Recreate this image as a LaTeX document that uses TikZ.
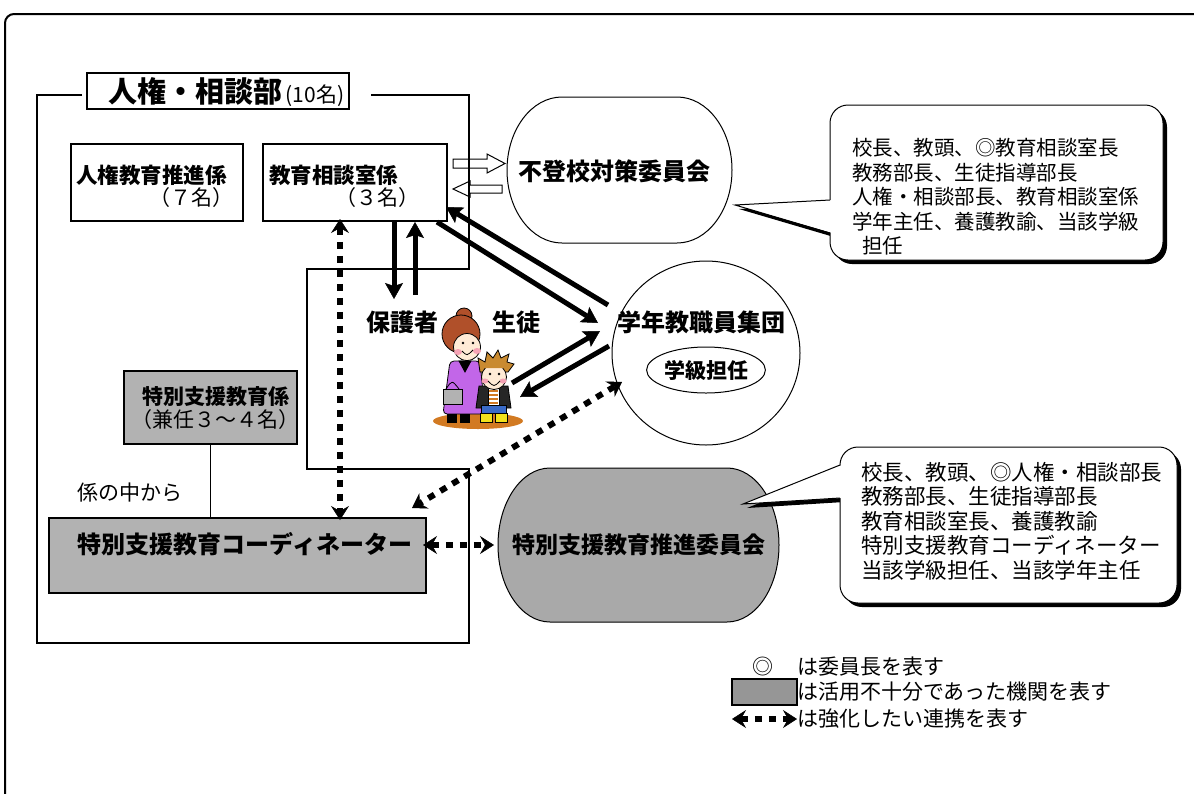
\documentclass[tikz,border=0pt]{standalone}
\usepackage{fontspec}
\setmainfont{Noto Sans CJK JP}
\usetikzlibrary{arrows.meta,shapes.geometric}
\newcommand\fsz[1]{\fontsize{#1}{#1}\selectfont}
\definecolor{boxgray}{HTML}{B2B2B2}
\definecolor{meetgray}{HTML}{A9A9A9}
\definecolor{keygray}{HTML}{969696}
\definecolor{dressviolet}{HTML}{C266E8}
\definecolor{hairred}{HTML}{B0502A}
\definecolor{hairgold}{HTML}{C98A30}
\definecolor{skin}{HTML}{FFEBD6}
\definecolor{groundorange}{HTML}{D27A22}
\definecolor{cheekpink}{HTML}{F5A3B5}
\definecolor{jeanblue}{HTML}{3A6BC8}
\definecolor{shoeyellow}{HTML}{F2E21C}
\begin{document}
\begin{tikzpicture}[x=1pt,y=-1pt,
  frame/.style={line width=1.5pt},
  plainbox/.style={draw,line width=1.5pt,fill=white,inner sep=0pt},
  graybox/.style={draw,line width=1.5pt,fill=boxgray,inner sep=0pt},
  lbl/.style={inner sep=0pt},
  solidarr/.style={line width=5pt,-{Stealth[length=16pt,width=18pt,inset=3pt,line width=0.5pt]}},
  dotarr/.style={line width=6pt,dash pattern=on 7pt off 7pt,
    {Stealth[length=14pt,width=18pt,inset=5pt,line width=0.5pt]}-{Stealth[length=14pt,width=18pt,inset=5pt,line width=0.5pt]}},
  hollowarr/.style={draw,line width=1pt},
  thinline/.style={line width=1pt}
]
\useasboundingbox (0,0) rectangle (1194,793);

% outer frame
\draw[line width=2pt,rounded corners=9pt] (5,830) -- (5,14) -- (1230,14);

% hollow arrows between the counselling desk and the truancy committee
\path[hollowarr] (453,159) -- (487,159) -- (487,154) -- (505,163.5) -- (487,173) -- (487,168) -- (453,168) -- cycle;
\path[hollowarr] (502,185) -- (470,185) -- (470,181) -- (453,189) -- (470,197) -- (470,193) -- (502,193) -- cycle;

% department outline with its indentation
\draw[frame] (82,95) -- (37,95) -- (37,643) -- (469,643) -- (469,469) -- (307,469)
  -- (307,269) -- (469,269) -- (469,95) -- (371,95);

% department title
\node[plainbox,minimum width=262pt,minimum height=36pt] (bu) at (218,91) {};
\node[lbl,anchor=west] (butext) at (108,92) {\fsz{29}\bfseries 人権・相談部\fsz{21}\mdseries\,(10名)};

% sections
\node[plainbox,minimum width=172pt,minimum height=77pt] (kenkyo) at (157,182.5) {};
\node[lbl,anchor=west,font=\fsz{21.5}\bfseries] (kenkyoname) at (76,175) {人権教育推進係};
\node[lbl,font=\fsz{21}] (kenkyonum) at (191.5,198) {（７名）};

\node[plainbox,minimum width=184pt,minimum height=77pt] (soudan) at (355,182.5) {};
\node[lbl,anchor=west,font=\fsz{21.5}\bfseries] (soudanname) at (269,175) {教育相談室係};
\node[lbl,font=\fsz{21}] (soudannum) at (377,198) {（３名）};

% truancy committee
\draw[line width=1pt,fill=white] (562,97) -- (677,97)
  arc[start angle=90,end angle=-90,x radius=55pt,y radius=73pt] -- (562,243)
  arc[start angle=270,end angle=90,x radius=55pt,y radius=73pt] -- cycle;
\node[lbl,font=\fsz{24}\bfseries] (futoko) at (614,171) {不登校対策委員会};

% members note 1
\fill[black,rounded corners=18pt] (834,109) rectangle (1167,264);
\fill[black] (834,204) -- (739,209) -- (834,237) -- cycle;
\node[draw,fill=white,line width=1pt,rounded corners=18pt,minimum width=333pt,minimum height=155pt,inner sep=0pt] (note1) at (996.5,182.5) {};
\fill[white] (832,200) -- (735,205) -- (832,233) -- cycle;
\coordinate (tip1) at (735,205);
\draw[thinline] (830,200) -- (tip1) -- (830,233);
\node[lbl,anchor=west,align=left,font=\fontsize{20.5}{24.5}\selectfont] (note1text) at (852,197)
  {校長、教頭、◎教育相談室長\\教務部長、生徒指導部長\\人権・相談部長、教育相談室係\\学年主任、養護教諭、当該学級\\\hspace*{10pt}担任};

% grade staff group
\node[draw,ellipse,line width=1pt,minimum width=188pt,minimum height=184pt,inner sep=0pt] (gakunen) at (706,353) {};
\node[lbl,font=\fsz{24}\bfseries] (gakunentext) at (701,322) {学年教職員集団};
\node[draw,ellipse,line width=1pt,minimum width=114pt,minimum height=46pt,inner sep=0pt,font=\fsz{21}\bfseries] (gakkyu) at (706,370) {学級担任};

% guardian and pupil
\node[lbl,font=\fsz{24}\bfseries] (hogosha) at (402,322) {保護者};
\node[lbl,font=\fsz{24}\bfseries] (seito) at (516,322) {生徒};

% illustration: mother and child
\fill[groundorange] (478,421) ellipse[x radius=45pt,y radius=8pt];
\begin{scope}[line width=0.8pt]
  % mother
  \filldraw[fill=hairred] (464,316) circle[radius=8pt];
  \filldraw[fill=hairred] (461,334) circle[radius=19pt];
  \filldraw[fill=dressviolet,rounded corners=4pt] (450,361) -- (480,361) -- (485,414) -- (443,414) -- cycle;
  \filldraw[fill=black] (459,361) -- (471,361) -- (465,372) -- cycle;
  \filldraw[fill=skin] (467,347) circle[radius=13.5pt];
  \fill[cheekpink] (458,352) ellipse[x radius=4pt,y radius=3pt];
  \fill[cheekpink] (477,351) ellipse[x radius=4pt,y radius=3pt];
  \fill (463,343) circle[radius=1.3pt];
  \fill (473,343) circle[radius=1.3pt];
  \draw (462,351) .. controls (467,356) .. (473,350);
  \filldraw[fill=gray!60] (443,389) rectangle (462,404);
  \draw (446,389) .. controls (452,380) .. (459,389);
  \filldraw[fill=black] (447,414) rectangle (456,422);
  \filldraw[fill=black] (460,414) rectangle (469,422);
  % child
  \filldraw[fill=black!85] (479,386) -- (508,386) -- (511,408) -- (476,408) -- cycle;
  \filldraw[fill=white] (488,388) rectangle (499,405);
  \foreach \yy in {391,395,399,403} \draw[draw=groundorange,line width=1.2pt] (488.6,\yy) -- (498.4,\yy);
  \filldraw[fill=jeanblue] (481,405) rectangle (506,413);
  \filldraw[fill=shoeyellow] (480,413) rectangle (492,422);
  \filldraw[fill=shoeyellow] (495,413) rectangle (507,422);
  \filldraw[fill=hairgold] (480,372) -- (478,358) -- (485,362) -- (487,352) -- (493,358) -- (498,350)
    -- (501,358) -- (509,354) -- (507,362) -- (514,364) -- (508,372) -- cycle;
  \filldraw[fill=skin] (494,377) circle[radius=12.5pt];
  \fill[hairgold] (484,368) -- (490,362) -- (497,364) -- (504,361) -- (505,368) -- cycle;
  \fill[cheekpink] (485,381) ellipse[x radius=3.5pt,y radius=2.5pt];
  \fill[cheekpink] (503,381) ellipse[x radius=3.5pt,y radius=2.5pt];
  \fill (490,374) circle[radius=1.3pt];
  \fill (499,374) circle[radius=1.3pt];
  \draw (488,381) .. controls (494,387) .. (500,381);
\end{scope}

% special support section and coordinator
\node[graybox,minimum width=173pt,minimum height=73pt] (tokushi) at (210.5,407.5) {};
\node[lbl,font=\fsz{21}\bfseries] (tokushiname) at (216,397) {特別支援教育係};
\node[lbl,font=\fsz{21}] (tokushinum) at (215,420) {（兼任３～４名）};
\node[graybox,minimum width=377pt,minimum height=75pt] (coord) at (237.5,555.5) {};
\node[lbl,font=\fsz{24}\bfseries] (coordname) at (245,544) {特別支援教育コーディネーター};
\draw[line width=1.2pt] (tokushi.south) -- (tokushi.south |- coord.north);
\node[lbl,font=\fsz{21}] (kakari) at (130,493) {係の中から};

% special support promotion committee
\draw[line width=1pt,fill=meetgray] (550,468) -- (727,468)
  arc[start angle=90,end angle=-90,x radius=52pt,y radius=77pt] -- (550,622)
  arc[start angle=270,end angle=90,x radius=52pt,y radius=77pt] -- cycle;
\node[lbl,font=\fsz{23}\bfseries] (suishin) at (639,545) {特別支援教育推進委員会};

% members note 2
\fill[black,rounded corners=18pt] (844,451) rectangle (1181,607);
\fill[black] (844,469) -- (747,508) -- (844,502) -- cycle;
\node[draw,fill=white,line width=1pt,rounded corners=18pt,minimum width=337pt,minimum height=156pt,inner sep=0pt] (note2) at (1008.5,525) {};
\fill[white] (842,465) -- (743,504) -- (842,498) -- cycle;
\coordinate (tip2) at (743,504);
\draw[thinline] (840,465) -- (tip2) -- (840,498);
\node[lbl,anchor=west,align=left,font=\fontsize{21.5}{24.5}\selectfont] (note2text) at (861,521)
  {校長、教頭、◎人権・相談部長\\教務部長、生徒指導部長\\教育相談室長、養護教諭\\特別支援教育コーディネーター\\当該学級担任、当該学年主任};

% solid links
\coordinate (sdA) at (394,222); \coordinate (sdB) at (394,299);
\coordinate (suA) at (415,295); \coordinate (suB) at (415,222);
\coordinate (gsA) at (608,305); \coordinate (gsB) at (446,207);
\coordinate (sgA) at (437,222); \coordinate (sgB) at (598,323);
\coordinate (cgA) at (512,383); \coordinate (cgB) at (600,331);
\coordinate (gcA) at (609,346); \coordinate (gcB) at (520,397);
\draw[solidarr] (sdA) -- (sdB);
\draw[solidarr] (suA) -- (suB);
\draw[solidarr] (gsA) -- (gsB);
\draw[solidarr] (sgA) -- (sgB);
\draw[solidarr] (cgA) -- (cgB);
\draw[solidarr] (gcA) -- (gcB);

% links to be strengthened
\coordinate (vA) at (340,219); \coordinate (vB) at (340,520);
\coordinate (dA) at (622,382); \coordinate (dB) at (412,508);
\coordinate (hA) at (423,545); \coordinate (hB) at (494,545);
\draw[dotarr] (vA) -- (vB);
\draw[dotarr] (dA) -- (dB);
\draw[dotarr] (hA) -- (hB);

% key
\node[lbl,font=\fsz{21}] (keymark) at (763,667) {◎};
\node[lbl,anchor=west,font=\fsz{21}] (keychair) at (797,667) {は委員長を表す};
\node[draw,line width=1.5pt,fill=keygray,minimum width=65pt,minimum height=26pt,inner sep=0pt] (keybox) at (764.5,692) {};
\node[lbl,anchor=west,font=\fsz{21}] (keyunder) at (797,692) {は活用不十分であった機関を表す};
\coordinate (kA) at (732,719); \coordinate (kB) at (797,719);
\draw[dotarr] (kA) -- (kB);
\node[lbl,anchor=west,font=\fsz{21}] (keylink) at (797,719) {は強化したい連携を表す};
\end{tikzpicture}
\end{document}
